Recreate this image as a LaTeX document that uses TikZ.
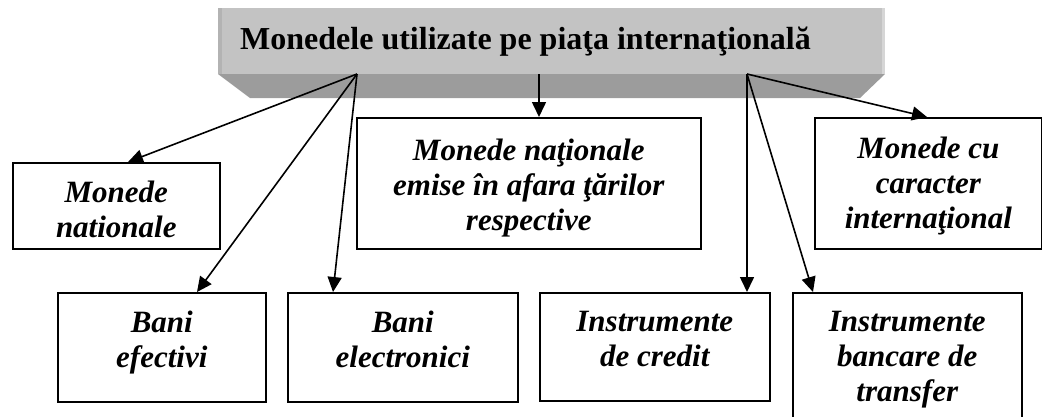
\documentclass[tikz,border=0pt]{standalone}
\usepackage{fontspec}
\setmainfont{Liberation Serif}
\usetikzlibrary{arrows.meta}
\definecolor{facegray}{HTML}{C3C3C3}
\definecolor{bandgray}{HTML}{9C9C9C}
\definecolor{edgedark}{HTML}{B3B3B3}
\definecolor{edgelight}{HTML}{D6D6D6}
\newcommand{\boxtxt}[4]{\parbox[c][#2][t]{#1}{\centering\rule{0pt}{#3}#4}}
\begin{document}
\begin{tikzpicture}[x=1pt,y=-1pt,
  ibox/.style={draw=black, line width=1.6pt, inner sep=0pt, anchor=north west,
    font={\bfseries\itshape\fontsize{31}{35}\selectfont}},
  arr/.style={-{Triangle[length=15pt,width=14pt]}, line width=1.6pt}]
\useasboundingbox (0,0) rectangle (1042,416);
% top 3D box
\fill[bandgray] (218,74) -- (885,74) -- (860,98) -- (250,98) -- cycle;
\node[fill=facegray, inner sep=0pt, minimum width=667pt, minimum height=66pt,
  anchor=north west] (topbox) at (218,8) {};
\fill[edgedark] (218,8) rectangle (222,74);
\fill[edgelight] (882,8) rectangle (885,74);
\node[anchor=base west, inner sep=0pt, font={\bfseries\fontsize{32}{36}\selectfont}]
  (title) at (240,49) {Monedele utilizate pe piaţa internaţională};
\coordinate (s1) at (357,74);
\coordinate (s2) at (539,74);
\coordinate (s3) at (747,74);
% boxes
\node[ibox] (A) at (12,162) {\boxtxt{207pt}{86pt}{40pt}{Monede\\nationale}};
\node[ibox] (B) at (356,117) {\boxtxt{344pt}{131pt}{43pt}{Monede naţionale\\emise în afara ţărilor\\respective}};
\node[ibox] (C) at (814,117) {\boxtxt{227pt}{131pt}{41pt}{Monede cu\\caracter\\internaţional}};
\node[ibox] (D) at (57,292) {\boxtxt{208pt}{109pt}{40pt}{Bani\\efectivi}};
\node[ibox] (E) at (287,292) {\boxtxt{230pt}{109pt}{40pt}{Bani\\electronici}};
\node[ibox] (F) at (539,292) {\boxtxt{230pt}{108pt}{39pt}{Instrumente\\de credit}};
\node[ibox] (G) at (792,292) {\boxtxt{229pt}{140pt}{39pt}{Instrumente\\bancare de\\transfer}};
% connectors
\draw[arr] (s1) -- ([xshift=116pt]A.north west);
\draw[arr] (s1) -- ([xshift=140pt]D.north west);
\draw[arr] (s1) -- ([xshift=46pt]E.north west);
\draw[arr] (s2) -- ([xshift=183pt]B.north west);
\draw[arr] (s3) -- ([xshift=113pt]C.north west);
\draw[arr] (s3) -- ([xshift=208pt]F.north west);
\draw[arr] (s3) -- ([xshift=21pt]G.north west);
\end{tikzpicture}
\end{document}
